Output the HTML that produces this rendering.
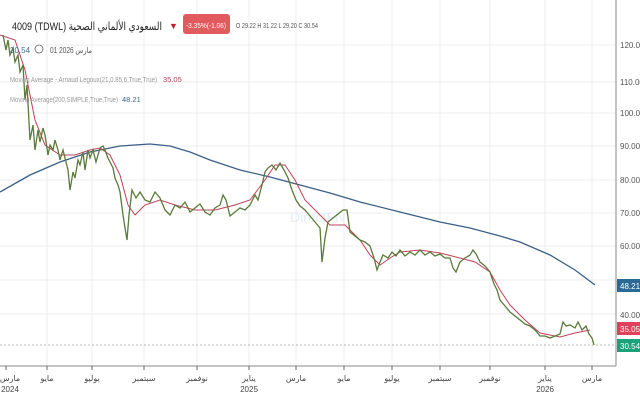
<!DOCTYPE html><html><head><meta charset="utf-8"><style>
body{margin:0;width:640px;height:400px;background:#fff;overflow:hidden;font-family:"Liberation Sans","Noto Sans CJK SC",sans-serif}
svg{position:absolute;left:0;top:0}
</style></head><body>
<svg width="640" height="400" font-family="Liberation Sans, DejaVu Sans, sans-serif">
<rect width="640" height="400" fill="#fff"/>
<g stroke="#ececec" stroke-width="1">
<line x1="0" y1="45" x2="616" y2="45"/><line x1="0" y1="82" x2="616" y2="82"/><line x1="0" y1="113" x2="616" y2="113"/><line x1="0" y1="146" x2="616" y2="146"/><line x1="0" y1="180" x2="616" y2="180"/><line x1="0" y1="213" x2="616" y2="213"/><line x1="0" y1="246" x2="616" y2="246"/><line x1="0" y1="280" x2="616" y2="280"/><line x1="0" y1="314" x2="616" y2="314"/>
<line x1="47" y1="0" x2="47" y2="366"/><line x1="92" y1="0" x2="92" y2="366"/><line x1="144" y1="0" x2="144" y2="366"/><line x1="197" y1="0" x2="197" y2="366"/><line x1="249" y1="0" x2="249" y2="366"/><line x1="296" y1="0" x2="296" y2="366"/><line x1="344" y1="0" x2="344" y2="366"/><line x1="392" y1="0" x2="392" y2="366"/><line x1="440" y1="0" x2="440" y2="366"/><line x1="490" y1="0" x2="490" y2="366"/><line x1="545" y1="0" x2="545" y2="366"/><line x1="592" y1="0" x2="592" y2="366"/>
</g>
<line x1="0" y1="345" x2="616" y2="345" stroke="#bbb" stroke-dasharray="2,2"/>
<line x1="616" y1="0" x2="616" y2="366" stroke="#888"/>
<line x1="0" y1="366" x2="616" y2="366" stroke="#888"/>
<text x="290" y="222" fill="#e4ecf4" font-size="14">DirectFN</text>
<polyline fill="none" stroke="#3b5f85" stroke-width="1.3" points="0,192 30,175 60,162 90,152 120,146 150,144 170,146 190,152 210,160 240,170 270,177 300,185 330,193 360,202 400,212 440,222 470,228 500,236 520,242 550,255 575,270 595,285"/>
<polyline fill="none" stroke="#c0405a" stroke-width="1" points="0,35 15,40 25,70 35,120 45,145 60,155 75,155 90,150 100,148 110,155 120,175 128,205 135,215 145,205 160,200 175,205 195,210 215,210 235,205 250,200 265,180 275,165 285,165 295,180 305,200 320,215 330,225 345,225 360,240 370,255 380,265 390,258 400,252 420,250 440,253 460,258 475,262 490,272 500,290 510,305 525,320 540,333 560,337 575,333 590,330"/>
<polyline fill="none" stroke="#5a7a3a" stroke-width="1.3" points="3,35 6,50 8,40 10,55 13,48 15,62 18,55 20,72 23,65 25,100 27,85 30,140 33,125 35,150 38,130 40,142 43,128 45,135 48,155 50,145 53,150 55,140 58,150 60,160 63,150 65,158 68,170 70,190 73,172 75,178 78,160 80,165 83,152 85,170 88,150 90,158 93,150 96,162 100,148 103,146 105,150 108,158 110,162 113,168 115,178 118,185 120,192 123,215 125,228 127,240 129,215 132,190 136,198 140,192 145,200 150,202 155,192 160,198 165,210 170,215 175,205 180,208 185,202 190,212 195,208 200,204 205,212 210,215 215,208 220,205 223,195 226,200 230,216 235,212 240,208 245,210 250,205 255,195 258,200 262,185 265,172 268,168 272,165 276,170 280,163 284,170 288,178 292,190 296,200 300,206 305,210 310,216 315,222 320,228 322,262 325,238 328,222 333,218 338,214 343,210 347,210 350,232 355,236 360,240 365,242 370,246 374,258 377,270 380,262 383,255 388,258 392,252 396,256 400,250 405,256 410,252 415,255 420,250 425,255 430,252 435,256 440,254 445,258 450,258 453,268 456,272 460,262 465,258 470,255 473,250 476,254 480,262 485,266 490,272 494,284 497,290 500,300 505,306 510,312 515,316 520,320 525,324 530,326 535,330 540,336 545,336 550,338 555,336 560,334 563,322 566,326 570,325 575,328 578,322 582,330 586,326 589,334 592,338 594,345"/>
<g font-size="8" fill="#555">
<text x="620" y="48">120.00</text><text x="620" y="85">110.00</text><text x="620" y="116">100.00</text><text x="620" y="149">90.00</text><text x="620" y="183">80.00</text><text x="620" y="216">70.00</text><text x="620" y="249">60.00</text><text x="620" y="318">40.00</text>
</g>
<rect x="617" y="279" width="23" height="13" fill="#2a6a95"/><text x="620" y="289" font-size="8" fill="#fff">48.21</text>
<rect x="617" y="322" width="23" height="13" fill="#e0405a"/><text x="620" y="332" font-size="8" fill="#fff">35.05</text>
<rect x="617" y="339" width="23" height="13" fill="#1aa37a"/><text x="620" y="349" font-size="8" fill="#fff">30.54</text>
<g stroke="#666"><line x1="6" y1="366" x2="6" y2="370"/><line x1="47" y1="366" x2="47" y2="370"/><line x1="92" y1="366" x2="92" y2="370"/><line x1="144" y1="366" x2="144" y2="370"/><line x1="197" y1="366" x2="197" y2="370"/><line x1="249" y1="366" x2="249" y2="370"/><line x1="296" y1="366" x2="296" y2="370"/><line x1="344" y1="366" x2="344" y2="370"/><line x1="392" y1="366" x2="392" y2="370"/><line x1="440" y1="366" x2="440" y2="370"/><line x1="490" y1="366" x2="490" y2="370"/><line x1="545" y1="366" x2="545" y2="370"/><line x1="592" y1="366" x2="592" y2="370"/></g>
<g font-size="8" fill="#444" text-anchor="middle">
<text x="10" y="381">مارس</text><text x="10" y="392">2024</text>
<text x="47" y="381">مايو</text><text x="92" y="381">يوليو</text><text x="144" y="381">سبتمبر</text><text x="197" y="381">نوفمبر</text>
<text x="249" y="381">يناير</text><text x="249" y="392">2025</text>
<text x="296" y="381">مارس</text><text x="344" y="381">مايو</text><text x="392" y="381">يوليو</text><text x="440" y="381">سبتمبر</text><text x="490" y="381">نوفمبر</text>
<text x="545" y="381">يناير</text><text x="545" y="392">2026</text><text x="592" y="381">مارس</text>
</g>
<text x="12" y="30" font-size="11" fill="#222" textLength="150" lengthAdjust="spacingAndGlyphs">4009  (TDWL) السعودي الألماني الصحية</text>
<text x="169" y="29" font-size="9" fill="#c0202a">▼</text>
<rect x="183" y="14" width="47" height="20" rx="3" fill="#e05a5e"/><text x="206" y="28" font-size="7.5" fill="#fff" text-anchor="middle" textLength="40" lengthAdjust="spacingAndGlyphs">-3.35%(-1.06)</text>
<text x="236" y="28" font-size="7.5" fill="#555" textLength="82" lengthAdjust="spacingAndGlyphs">O 29.22  H 31.22  L 29.20  C 30.54</text>
<text x="10" y="53" font-size="8" fill="#3a6a95">30.54</text>
<circle cx="39" cy="49" r="4" fill="none" stroke="#666" stroke-width="0.8"/>
<text x="50" y="53" font-size="8" fill="#555" textLength="42" lengthAdjust="spacingAndGlyphs">مارس 2026 01</text>
<text x="10" y="82" font-size="7" fill="#999" textLength="147" lengthAdjust="spacingAndGlyphs">Moving Average - Arnaud Legoux(21,0.85,6,True,True)</text><text x="163" y="82" font-size="7.5" fill="#c0405a">35.05</text>
<text x="10" y="102" font-size="7" fill="#999" textLength="108" lengthAdjust="spacingAndGlyphs">Moving Average(200,SIMPLE,True,True)</text><text x="122" y="102" font-size="7.5" fill="#3a6a95">48.21</text>
</svg>
</body></html>
